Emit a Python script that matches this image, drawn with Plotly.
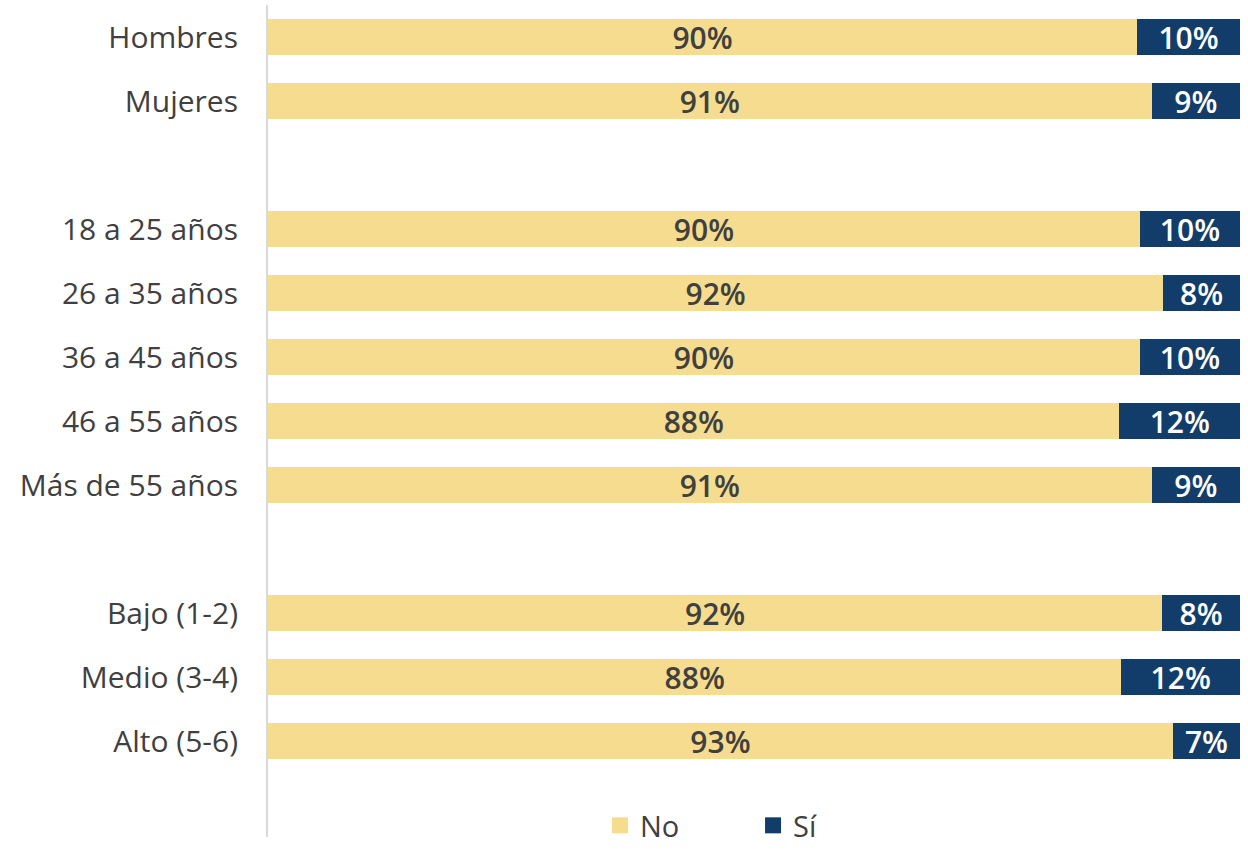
import plotly.graph_objects as go

categories = ["Hombres", "Mujeres", " ", "18 a 25 años", "26 a 35 años", "36 a 45 años",
              "46 a 55 años", "Más de 55 años", "  ", "Bajo (1-2)", "Medio (3-4)", "Alto (5-6)", "   "]
no_values = [89.4, 90.9, None, 89.7, 92.1, 89.7, 87.6, 90.9, None, 92.0, 87.8, 93.1, None]
si_values = [10.6, 9.1, None, 10.3, 7.9, 10.3, 12.4, 9.1, None, 8.0, 12.2, 6.9, None]
no_labels = ["90%", "91%", "", "90%", "92%", "90%", "88%", "91%", "", "92%", "88%", "93%", ""]
si_labels = ["10%", "9%", "", "10%", "8%", "10%", "12%", "9%", "", "8%", "12%", "7%", ""]
series_names = ["No", "Sí"]
series_colors = ["#F5DC8E", "#123D6A"]

FONT = "Open Sans"
TXT = "#404040"
fig = go.Figure()
fig.add_trace(go.Bar(
    y=categories, x=no_values, name=series_names[0], orientation="h",
    marker=dict(color=series_colors[0], line=dict(width=0)),
    text=no_labels, textposition="inside", insidetextanchor="middle", textangle=0,
    textfont=dict(family=FONT, size=30, color=TXT, weight=600),
    constraintext="none", hoverinfo="skip", showlegend=False,
))
fig.add_trace(go.Bar(
    y=categories, x=si_values, name=series_names[1], orientation="h",
    marker=dict(color=series_colors[1], line=dict(width=0)),
    text=si_labels, textposition="inside", insidetextanchor="middle", textangle=0,
    textfont=dict(family=FONT, size=30, color="#FFFFFF", weight=600),
    constraintext="none", hoverinfo="skip", showlegend=False,
))
# legend entries with larger square swatches
for nm, col in zip(series_names, series_colors):
    fig.add_trace(go.Scatter(
        x=[None], y=[None], mode="markers", name=nm,
        marker=dict(symbol="square", size=18, color=col), hoverinfo="skip",
    ))

fig.update_layout(
    barmode="stack", bargap=0.44,
    width=1248, height=851,
    margin=dict(l=268, r=8, t=5, b=14, autoexpand=False),
    plot_bgcolor="white", paper_bgcolor="white",
    font=dict(family=FONT, size=30, color=TXT),
    showlegend=True,
    legend=dict(orientation="h", x=0.3416, xanchor="left", y=-0.0168, yanchor="bottom",
                traceorder="normal", font=dict(family=FONT, size=29, color=TXT),
                entrywidth=108, itemwidth=30, bgcolor="rgba(0,0,0,0)", itemclick=False),
    xaxis=dict(range=[0, 100], visible=False, fixedrange=True),
    yaxis=dict(type="category", categoryorder="array", categoryarray=categories,
               range=[12.5, -0.5], showline=True, linecolor="#D9D9D9", linewidth=2,
               showgrid=False, zeroline=False, ticks="", ticklabelstandoff=22,
               automargin=False,
               tickfont=dict(family=FONT, size=30, color=TXT), fixedrange=True),
)
fig.write_html("out.html", config={"displayModeBar": False},
               post_script="document.body.style.margin='0';document.body.style.overflow='hidden';")
